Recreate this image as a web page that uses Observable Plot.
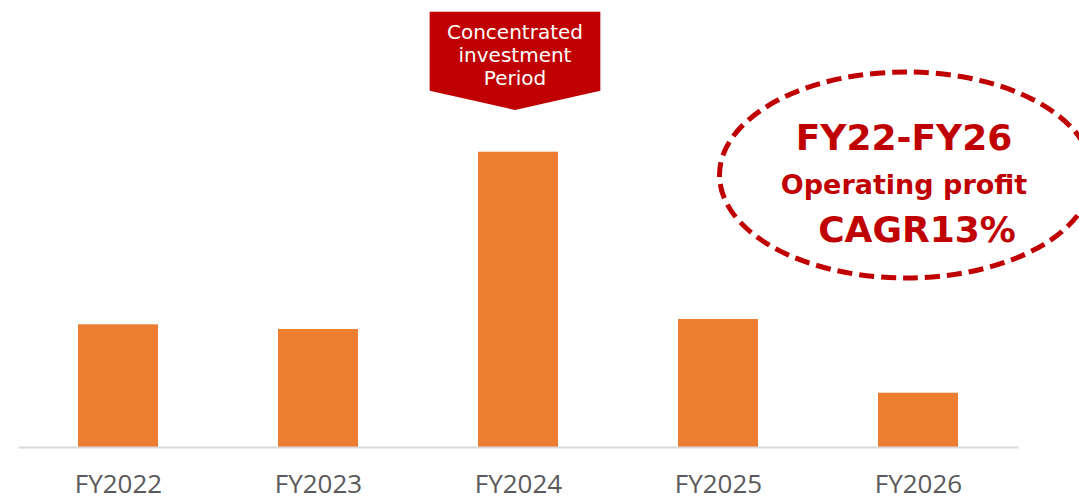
<!DOCTYPE html>
<html>
<head>
<meta charset="utf-8">
<script src="https://cdn.jsdelivr.net/npm/d3@7"></script>
<script src="https://cdn.jsdelivr.net/npm/@observablehq/plot@0.6"></script>
<style>
  html, body { margin: 0; padding: 0; background: #fff; }
  #chart { width: 1079px; height: 501px; overflow: hidden; }
</style>
</head>
<body>
<div id="chart"></div>
<script>
// Data (relative operating profit; no axis values shown)
const years = ["FY2022", "FY2023", "FY2024", "FY2025", "FY2026"];
const values = [122.7, 118, 295.3, 128, 54.3];
const bannerLines = ["Concentrated", "investment", "Period"];
const bannerYear = "FY2024";
const calloutLines = ["FY22-FY26", "Operating profit", "CAGR13%"];

const data = years.map((year, i) => ({year, value: values[i]}));

const W = 1079, H = 501;
const plot = Plot.plot({
  width: W,
  height: H,
  marginTop: 147,
  marginBottom: 54,
  marginLeft: 18.5,
  marginRight: 60.5,
  style: {background: "#fff", overflow: "visible"},
  x: {domain: years, paddingInner: 0.6, paddingOuter: 0.3, label: null},
  y: {domain: [0, 300], axis: null},
  marks: [
    Plot.barY(data, {x: "year", y: "value", fill: "#ED7D31"}),
    Plot.ruleY([0], {stroke: "#D9D9D9", strokeWidth: 2}),
    Plot.axisX({tickSize: 0, tickPadding: 27, fontSize: 26, fontFamily: "Open Sans", fill: "#595959", color: "#595959", label: null})
  ]
});
document.getElementById("chart").appendChild(plot);

const svg = d3.select(plot);
const xs = plot.scale("x");
const cxBanner = xs.apply(bannerYear) + xs.bandwidth / 2 - 3;

// Banner (pentagon arrow)
const bw = 170.7, bTop = 11.7, bSide = 90.7, bTip = 110;
const g1 = svg.append("g");
g1.append("path")
  .attr("d", `M${cxBanner - bw/2},${bTop}H${cxBanner + bw/2}V${bSide}L${cxBanner},${bTip}L${cxBanner - bw/2},${bSide}Z`)
  .attr("fill", "#C00000");
g1.selectAll("text").data(bannerLines).join("text")
  .attr("x", cxBanner)
  .attr("y", (d, i) => 39 + i * 23)
  .attr("text-anchor", "middle")
  .attr("fill", "#fff")
  .style("font-family", "'DejaVu Sans', Verdana, sans-serif")
  .style("font-size", "20px")
  .text(d => d);

// Dashed ellipse callout
const g2 = svg.append("g");
g2.append("ellipse")
  .attr("cx", 906).attr("cy", 175).attr("rx", 186.5).attr("ry", 103)
  .attr("fill", "none").attr("stroke", "#C00000")
  .attr("stroke-width", 5).attr("stroke-dasharray", "15 7");
const calloutPos = [
  {x: 904, y: 150, size: 36},
  {x: 904, y: 194, size: 27},
  {x: 917, y: 242, size: 36}
];
g2.selectAll("text").data(calloutLines).join("text")
  .attr("x", (d, i) => calloutPos[i].x)
  .attr("y", (d, i) => calloutPos[i].y)
  .attr("text-anchor", "middle")
  .attr("fill", "#C00000")
  .style("font-family", "'DejaVu Sans', Verdana, sans-serif")
  .style("font-weight", "bold")
  .style("font-size", (d, i) => calloutPos[i].size + "px")
  .text(d => d);
</script>
</body>
</html>
